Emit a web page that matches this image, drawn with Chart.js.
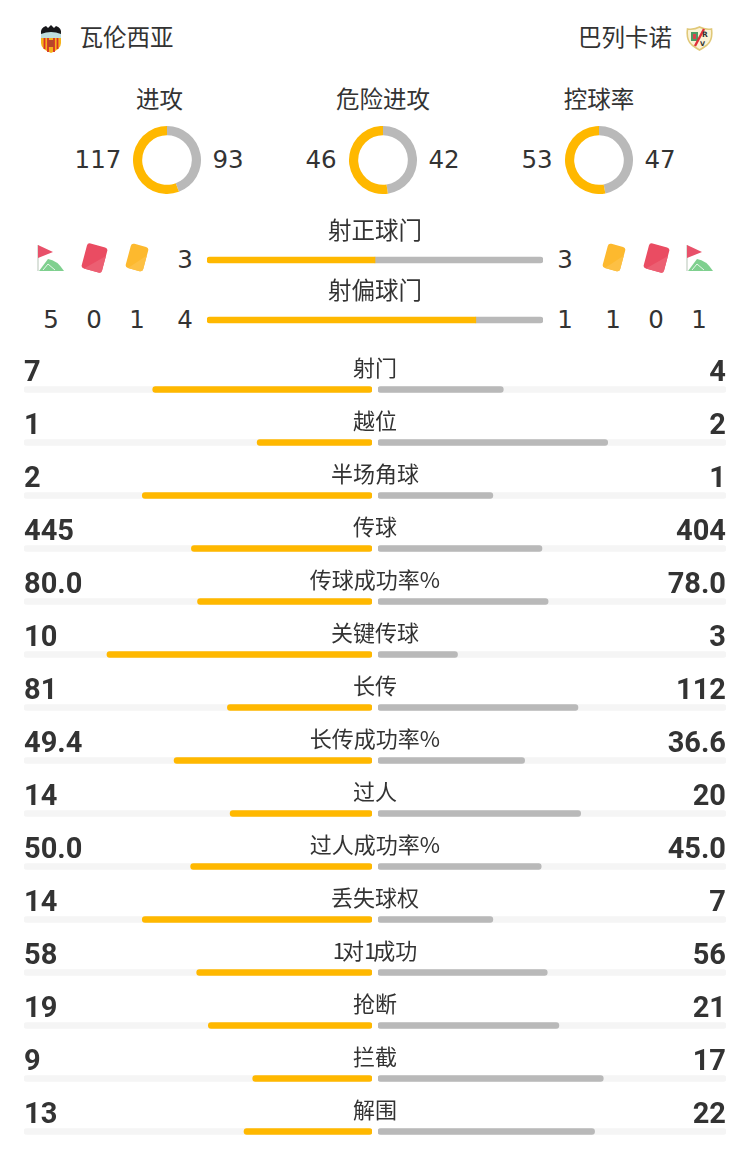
<!DOCTYPE html>
<html lang="zh"><head><meta charset="utf-8">
<script src="https://cdn.jsdelivr.net/npm/chart.js@4"></script>
<style>
html,body{margin:0;padding:0;background:#fff;}
#page{position:relative;width:750px;height:1175px;overflow:hidden;background:#fff;color:#333;font-family:"Noto Sans CJK SC","DejaVu Sans",sans-serif;}
canvas{position:absolute;display:block;}
.t{position:absolute;white-space:nowrap;line-height:1;transform:translate(-50%,-50%);}
.cn{font-size:23.5px;}
.num{font-family:"DejaVu Sans";font-size:24.5px;}
.lab{font-size:22px;font-family:"Noto Sans CJK SC";}
.val{font-family:Roboto;font-weight:700;font-size:29px;color:#333;transform:translateY(-50%);}
svg{position:absolute;}
</style></head><body>
<div id="page">
<canvas id="barsL" width="348" height="795" style="left:24px;top:363px"></canvas>
<canvas id="barsR" width="348" height="795" style="left:378px;top:363px"></canvas>
<canvas id="thin" width="336" height="120" style="left:207px;top:230px"></canvas>
</div>
<script>
const homeTeam = "瓦伦西亚";
const awayTeam = "巴列卡诺";
const ringLabels = ["进攻", "危险进攻", "控球率"];
const ringHome = [117, 46, 53];
const ringAway = [93, 42, 47];
const thinLabels = ["射正球门", "射偏球门"];
const thinHome = [3, 4];
const thinAway = [3, 1];
const cornersHome = 5, redHome = 0, yellowHome = 1;
const yellowAway = 1, redAway = 0, cornersAway = 1;
const statLabels = ["射门","越位","半场角球","传球","传球成功率%","关键传球","长传","长传成功率%","过人","过人成功率%","丢失球权","1对1成功","抢断","拦截","解围"];
const statHome = ["7","1","2","445","80.0","10","81","49.4","14","50.0","14","58","19","9","13"];
const statAway = ["4","2","1","404","78.0","3","112","36.6","20","45.0","7","56","21","17","22"];
const YELLOW = "#ffb800", GREY = "#b9b9b9", TRACK = "#f5f5f5";

const page = document.getElementById("page");
function text(s, x, y, cls){
  const d = document.createElement("div");
  d.className = "t " + cls; d.textContent = s;
  d.style.left = x + "px"; d.style.top = y + "px";
  page.appendChild(d); return d;
}
const base = {responsive:false, animation:false, devicePixelRatio:1,
  plugins:{legend:{display:false}, tooltip:{enabled:false}}, layout:{padding:0}};

// header
text(homeTeam, 126.5, 37, "cn");
text(awayTeam, 625, 37, "cn");

// ring stats
const ringX = [167, 383, 599];
const ringTitleX = [159.5, 383, 599];
ringLabels.forEach((l,i)=>{
  text(l, ringTitleX[i], 99, "cn");
  text(String(ringHome[i]), ringX[i]-(i==0?69:62), 160, "num");
  text(String(ringAway[i]), ringX[i]+61, 160, "num");
  const c = document.createElement("canvas");
  c.width = 68; c.height = 68;
  c.style.left = (ringX[i]-34)+"px"; c.style.top = "126px";
  page.appendChild(c);
  new Chart(c, {type:"doughnut",
    data:{datasets:[{data:[ringAway[i], ringHome[i]], backgroundColor:[GREY, YELLOW], borderWidth:0}]},
    options:{...base, cutout:"73%"}});
});

// thin comparison bars
thinLabels.forEach((l,i)=> text(l, 375, 230+i*60, "cn"));
new Chart(document.getElementById("thin"), {type:"bar",
  data:{labels:thinLabels, datasets:[
    {data:thinHome.map((v,i)=>v/(v+thinAway[i])), backgroundColor:YELLOW, barThickness:6, borderSkipped:false,
     borderRadius:{topLeft:3,bottomLeft:3,topRight:0,bottomRight:0}},
    {data:thinAway.map((v,i)=>v/(v+thinHome[i])), backgroundColor:GREY, barThickness:6, borderSkipped:false,
     borderRadius:{topLeft:0,bottomLeft:0,topRight:3,bottomRight:3}}
  ]},
  options:{...base, indexAxis:"y", scales:{
    x:{display:false, stacked:true, min:0, max:1},
    y:{display:false, stacked:true}}}});

// counts beside thin bars
text(String(thinHome[0]), 185, 260, "num");
text(String(thinAway[0]), 565, 260, "num");
[cornersHome, redHome, yellowHome, thinHome[1]].forEach((v,i)=> text(String(v), [51,94,137,185][i], 320, "num"));
[thinAway[1], yellowAway, redAway, cornersAway].forEach((v,i)=> text(String(v), [565,613,656,699][i], 320, "num"));

// stat rows
function rowChart(id, own, other, color, reverse){
  new Chart(document.getElementById(id), {type:"bar",
    data:{labels:statLabels, datasets:[
      {data:own.map((v,i)=>+v/(+v + +other[i])), backgroundColor:color, barThickness:6, borderRadius:3, borderSkipped:false, grouped:false},
      {data:own.map(()=>1.01), backgroundColor:TRACK, barThickness:6, borderRadius:3, borderSkipped:false, grouped:false}
    ]},
    options:{...base, indexAxis:"y", scales:{
      x:{display:false, min:0, max:1.01, reverse:reverse},
      y:{display:false}}}});
}
rowChart("barsL", statHome, statAway, YELLOW, true);
rowChart("barsR", statAway, statHome, GREY, false);
statLabels.forEach((l,i)=>{
  const y = 389.5 + i*53;
  const lab = text(l, 375, y-23.5, "lab");
  if (/\d/.test(l)) lab.innerHTML = l.replace(/\d/g, '<span style="letter-spacing:-3px">$&</span>');
  const a = document.createElement("div"); a.className="t val"; a.textContent=statHome[i];
  a.style.left="24px"; a.style.top=(y-18.5)+"px"; page.appendChild(a);
  const b = document.createElement("div"); b.className="t val"; b.textContent=statAway[i];
  b.style.right="24px"; b.style.top=(y-18.5)+"px"; page.appendChild(b);
});

// icons
const flag = `<path d="M1 0V26" stroke="#cfd8cf" stroke-width="1.5"/><path d="M1 0L16 7L1 13Z" fill="#e8516a"/><path d="M2 26L11 14Q20 15 27 26Z" fill="#7fd08f"/><path d="M6 25L11 19L18 25" fill="none" stroke="#e9f7ec" stroke-width="1"/>`;
function icon(markup, x, y, w, h){
  const ns = "http://www.w3.org/2000/svg";
  const s = document.createElementNS(ns,"svg");
  s.setAttribute("width",w); s.setAttribute("height",h);
  s.setAttribute("viewBox",`0 0 ${w} ${h}`);
  s.style.left=x+"px"; s.style.top=y+"px"; s.innerHTML=markup; page.appendChild(s);
}
const card = (w,h,c,c2)=>`<g transform="translate(${w/2+4} ${h/2+2}) rotate(15)"><rect x="${-w/2}" y="${-h/2}" width="${w}" height="${h}" rx="3" fill="${c}"/><path d="M${-w/2+3} ${h/2}L${w/2} ${-h/2+8}V${h/2-3}Q${w/2} ${h/2} ${w/2-3} ${h/2}Z" fill="${c2}"/></g>`;
icon(flag, 37, 245, 28, 28);
icon(card(21,26,"#ea4c62","#ec5f72"), 80, 243, 30, 32);
icon(card(18,25,"#fdb92e","#fdc044"), 124, 243, 28, 30);
icon(card(18,25,"#fdb92e","#fdc044"), 601, 243, 28, 30);
icon(card(21,26,"#ea4c62","#ec5f72"), 642, 243, 30, 32);
icon(flag, 686, 245, 28, 28);
// Valencia crest
icon(`<path d="M1 11H21V18Q21 24 11 28Q1 24 1 18Z" fill="#f5b21a"/>
<path d="M4.5 12V24M8 12V27M14 12V27M17.5 12V24" stroke="#d8302a" stroke-width="1.8"/>
<rect x="8" y="15" width="6" height="7" fill="#b8462a"/>
<path d="M1 8Q11 5 21 8V13H1Z" fill="#bfdede"/>
<path d="M1 9Q0 3 6 1L8 3L11 0L14 3L16 1Q22 3 21 9Q11 5 1 9Z" fill="#17171a"/>`, 40, 25, 22, 28);
// Rayo crest
icon(`<path d="M1.5 3Q8 4 13.5 1Q19 4 25.5 3Q27 14 21 19Q17 22 13.5 24Q10 22 6 19Q0 14 1.5 3Z" fill="#fbf3d6" stroke="#e0c878" stroke-width="1.6"/>
<rect x="5" y="6" width="7" height="9" fill="#4f9a63"/><rect x="7" y="8" width="3" height="5" fill="#d9434c"/>
<path d="M9 20L18 3" stroke="#e0303a" stroke-width="2.4"/>
<text x="16" y="11" font-size="7.5" font-family="DejaVu Sans" font-weight="700" fill="#333">R</text>
<text x="14" y="20" font-size="6.5" font-family="DejaVu Sans" font-weight="700" fill="#333">V</text>`, 685.5, 25.5, 27, 26);
</script>
</body></html>
